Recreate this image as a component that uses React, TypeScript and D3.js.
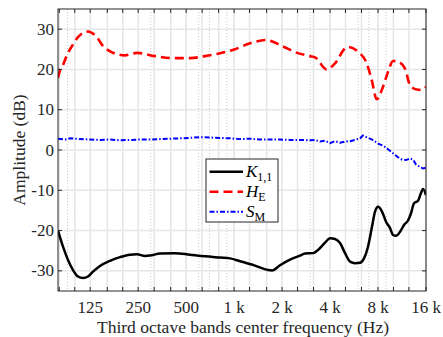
import React, { useEffect } from "react";
import * as d3 from "d3";

// Third-octave grid (major) and labelled ticks
const thirdOctaves = [80, 100, 125, 160, 200, 250, 315, 400, 500, 630, 800, 1000, 1250, 1600, 2000, 2500, 3150, 4000, 5000, 6300, 8000, 10000, 12500, 16000];
const labelTicks = [125, 250, 500, 1000, 2000, 4000, 8000, 16000];
const labelText = ["125", "250", "500", "1 k", "2 k", "4 k", "8 k", "16 k"];
const yTicks = [-30, -20, -10, 0, 10, 20, 30];

// K_{1,1}
const kFreq = [78.5, 84.4, 90.7, 97.5, 104.8, 112.7, 121.1, 130.2, 144, 166.4, 192.3, 222.2, 245.8, 276, 296.7, 342.7, 425.7, 528.8, 656.7, 815.6, 942.5, 1089, 1352, 1632, 1729, 1941, 2243, 2591, 2786, 3127, 3362, 3719, 3997, 4297, 4620, 4965, 5338, 5738, 6167, 6535, 6923, 7335, 7660, 8000, 8476, 8980, 9514, 9938, 10378, 10998, 11650, 12340, 12890, 13460, 14256, 14884, 15330, 16000];
const kDb = [-20, -24, -27.3, -29.8, -31.4, -31.8, -31.4, -30.2, -28.8, -27.5, -26.6, -26.0, -25.9, -26.3, -26.2, -25.7, -25.6, -26, -26.4, -26.7, -26.9, -27.6, -28.7, -29.8, -29.9, -28.6, -27.2, -26.2, -25.7, -25.6, -24.8, -23, -21.9, -22.1, -23.1, -25.6, -27.7, -28.1, -28, -26.9, -24, -19, -15.3, -14.1, -15.3, -17.8, -19.4, -21.1, -21.3, -20.3, -18.6, -17.5, -15.7, -13.2, -12.6, -10.7, -9.7, -11.2];

// H_E
const hFreq = [78.5, 80.8, 84.4, 89.4, 96.1, 104.8, 116, 121.1, 134, 154.8, 206.7, 245.8, 318.9, 413.5, 528.8, 656.7, 815.6, 1013, 1258, 1585, 2027, 2410, 2994, 3219, 3811, 4297, 4965, 5184, 5991, 6793, 7301, 7850, 8598, 9243, 9938, 10684, 11815, 12700, 13990, 15040, 16000];
const hDb = [17.9, 19.8, 21.1, 23.6, 25.8, 28, 29.3, 29.4, 28.5, 25.3, 23.5, 24.1, 23.3, 22.8, 22.8, 23.3, 24, 25, 26.5, 27.3, 25.7, 24.3, 23.3, 23, 20, 21.5, 25.2, 25.6, 24.4, 21.5, 17.4, 12.6, 15.7, 19.4, 22.1, 21.9, 20.2, 16.1, 15, 14.9, 15.7];

// S_M
const sFreq = [78.5, 86.9, 93.4, 107.9, 125, 144, 166.4, 192.3, 222.2, 256.7, 296.7, 342.7, 396, 457.6, 528.8, 611, 706, 815.6, 942.5, 1089, 1258, 1454, 1680, 1941, 2243, 2591, 2994, 3219, 3460, 3719, 3997, 4297, 4620, 4965, 5338, 5738, 6167, 6441, 6824, 7335, 8000, 8598, 9243, 9938, 10684, 11320, 11995, 12700, 13267, 13855, 14672, 15330, 16000];
const sDb = [2.8, 2.6, 2.9, 2.7, 2.6, 2.5, 2.6, 2.4, 2.5, 2.6, 2.6, 2.7, 2.8, 2.9, 3.0, 3.2, 3.1, 3.0, 2.9, 2.7, 2.8, 2.6, 2.6, 2.6, 2.5, 2.5, 2.4, 2.5, 2.1, 2.3, 1.7, 2.2, 1.8, 2.1, 2.2, 2.5, 2.9, 3.6, 3.1, 2.6, 1.6, 1.1, 0.2, -0.8, -1.8, -2.4, -2.5, -2.1, -2.4, -3.6, -4.2, -4.6, -4.4];

const W = 443, H = 337;
const M = { left: 58, right: 426, top: 9, bottom: 291 };
const FONT = "'Liberation Serif', 'Times New Roman', serif";

export default function App() {
  useEffect(() => {
    document.body.style.margin = "0";
  }, []);

  const x = d3.scaleLog().domain([78.5, 16000]).range([M.left, M.right]);
  const y = d3.scaleLinear().domain([-35, 35]).range([M.bottom, M.top]);

  const minorGrid: number[] = [];
  for (let p = 1; p <= 4; p++) {
    for (let k = 1; k <= 9; k++) {
      const v = k * Math.pow(10, p);
      if (v >= 78.5 && v <= 16000) minorGrid.push(v);
    }
  }

  const mk = (fs: number[], ds: number[]) => fs.map((f, i) => [f, ds[i]] as [number, number]);
  const smooth = d3.line<[number, number]>().x(d => x(d[0])).y(d => y(d[1])).curve(d3.curveMonotoneX);
  const lin = d3.line<[number, number]>().x(d => x(d[0])).y(d => y(d[1]));

  const lg = { x: 206, y: 159, w: 72, h: 63 };

  return (
    <svg width={W} height={H} style={{ display: "block", background: "#fff" }} fontFamily={FONT}>
      <rect x={0} y={0} width={W} height={H} fill="#fff" />
      <defs>
        <clipPath id="plotclip">
          <rect x={M.left} y={M.top} width={M.right - M.left} height={M.bottom - M.top} />
        </clipPath>
      </defs>
      {/* minor grid */}
      {minorGrid.map(v => (
        <line key={"mg" + v} x1={x(v)} x2={x(v)} y1={M.top} y2={M.bottom} stroke="#c8c8c8" strokeWidth={1} strokeDasharray="1,2" />
      ))}
      {/* major grid */}
      {thirdOctaves.filter(v => v >= 78.5).map(v => (
        <line key={"g" + v} x1={x(v)} x2={x(v)} y1={M.top} y2={M.bottom} stroke="#e6e6e6" strokeWidth={1.5} />
      ))}
      {yTicks.map(v => (
        <line key={"gy" + v} x1={M.left} x2={M.right} y1={y(v)} y2={y(v)} stroke="#e6e6e6" strokeWidth={1.5} />
      ))}

      <g clipPath="url(#plotclip)">
        <path d={lin(mk(sFreq, sDb)) || ""} fill="none" stroke="#0000ff" strokeWidth={2} strokeDasharray="5,2,1.5,2" />
        <path d={smooth(mk(hFreq, hDb)) || ""} fill="none" stroke="#ff0000" strokeWidth={2.6} strokeDasharray="9,5" />
        <path d={smooth(mk(kFreq, kDb)) || ""} fill="none" stroke="#000" strokeWidth={2.5} />
      </g>

      {/* axes box */}
      <rect x={M.left} y={M.top} width={M.right - M.left} height={M.bottom - M.top} fill="none" stroke="#262626" strokeWidth={1} />
      {thirdOctaves.filter(v => v >= 78.5).map(v => (
        <g key={"t" + v}>
          <line x1={x(v)} x2={x(v)} y1={M.bottom} y2={M.bottom - 4} stroke="#262626" />
          <line x1={x(v)} x2={x(v)} y1={M.top} y2={M.top + 4} stroke="#262626" />
        </g>
      ))}
      {yTicks.map(v => (
        <g key={"ty" + v}>
          <line x1={M.left} x2={M.left + 4} y1={y(v)} y2={y(v)} stroke="#262626" />
          <line x1={M.right} x2={M.right - 4} y1={y(v)} y2={y(v)} stroke="#262626" />
          <text x={M.left - 4} y={y(v)} dy="0.33em" textAnchor="end" fontSize={17} fill="#262626">{v}</text>
        </g>
      ))}
      {labelTicks.map((v, i) => (
        <text key={"xl" + v} x={x(v)} y={313} textAnchor="middle" fontSize={17} fill="#262626">{labelText[i]}</text>
      ))}
      <text x={(M.left + M.right) / 2 + 1} y={333} textAnchor="middle" fontSize={17.5} fill="#262626">Third octave bands center frequency (Hz)</text>
      <text transform={`translate(25,${(M.top + M.bottom) / 2}) rotate(-90)`} textAnchor="middle" fontSize={17.5} fill="#262626">Amplitude (dB)</text>

      {/* legend */}
      <rect x={lg.x} y={lg.y} width={lg.w} height={lg.h} fill="#fff" stroke="#262626" strokeWidth={1} />
      <line x1={209.5} x2={243} y1={171.7} y2={171.7} stroke="#000" strokeWidth={2.5} />
      <line x1={209.5} x2={243} y1={191.7} y2={191.7} stroke="#ff0000" strokeWidth={2.6} strokeDasharray="9,5" />
      <line x1={209.5} x2={243} y1={211.7} y2={211.7} stroke="#0000ff" strokeWidth={2} strokeDasharray="5,2,1.5,2" />
      <text x={246} y={177} fontSize={17} fill="#000">
        <tspan fontStyle="italic">K</tspan>
        <tspan fontSize={12} dy={4}>1,1</tspan>
      </text>
      <text x={246} y={197} fontSize={17} fill="#000">
        <tspan fontStyle="italic">H</tspan>
        <tspan fontSize={12} dy={4}>E</tspan>
      </text>
      <text x={246} y={217} fontSize={17} fill="#000">
        <tspan fontStyle="italic">S</tspan>
        <tspan fontSize={12} dy={4}>M</tspan>
      </text>
    </svg>
  );
}
